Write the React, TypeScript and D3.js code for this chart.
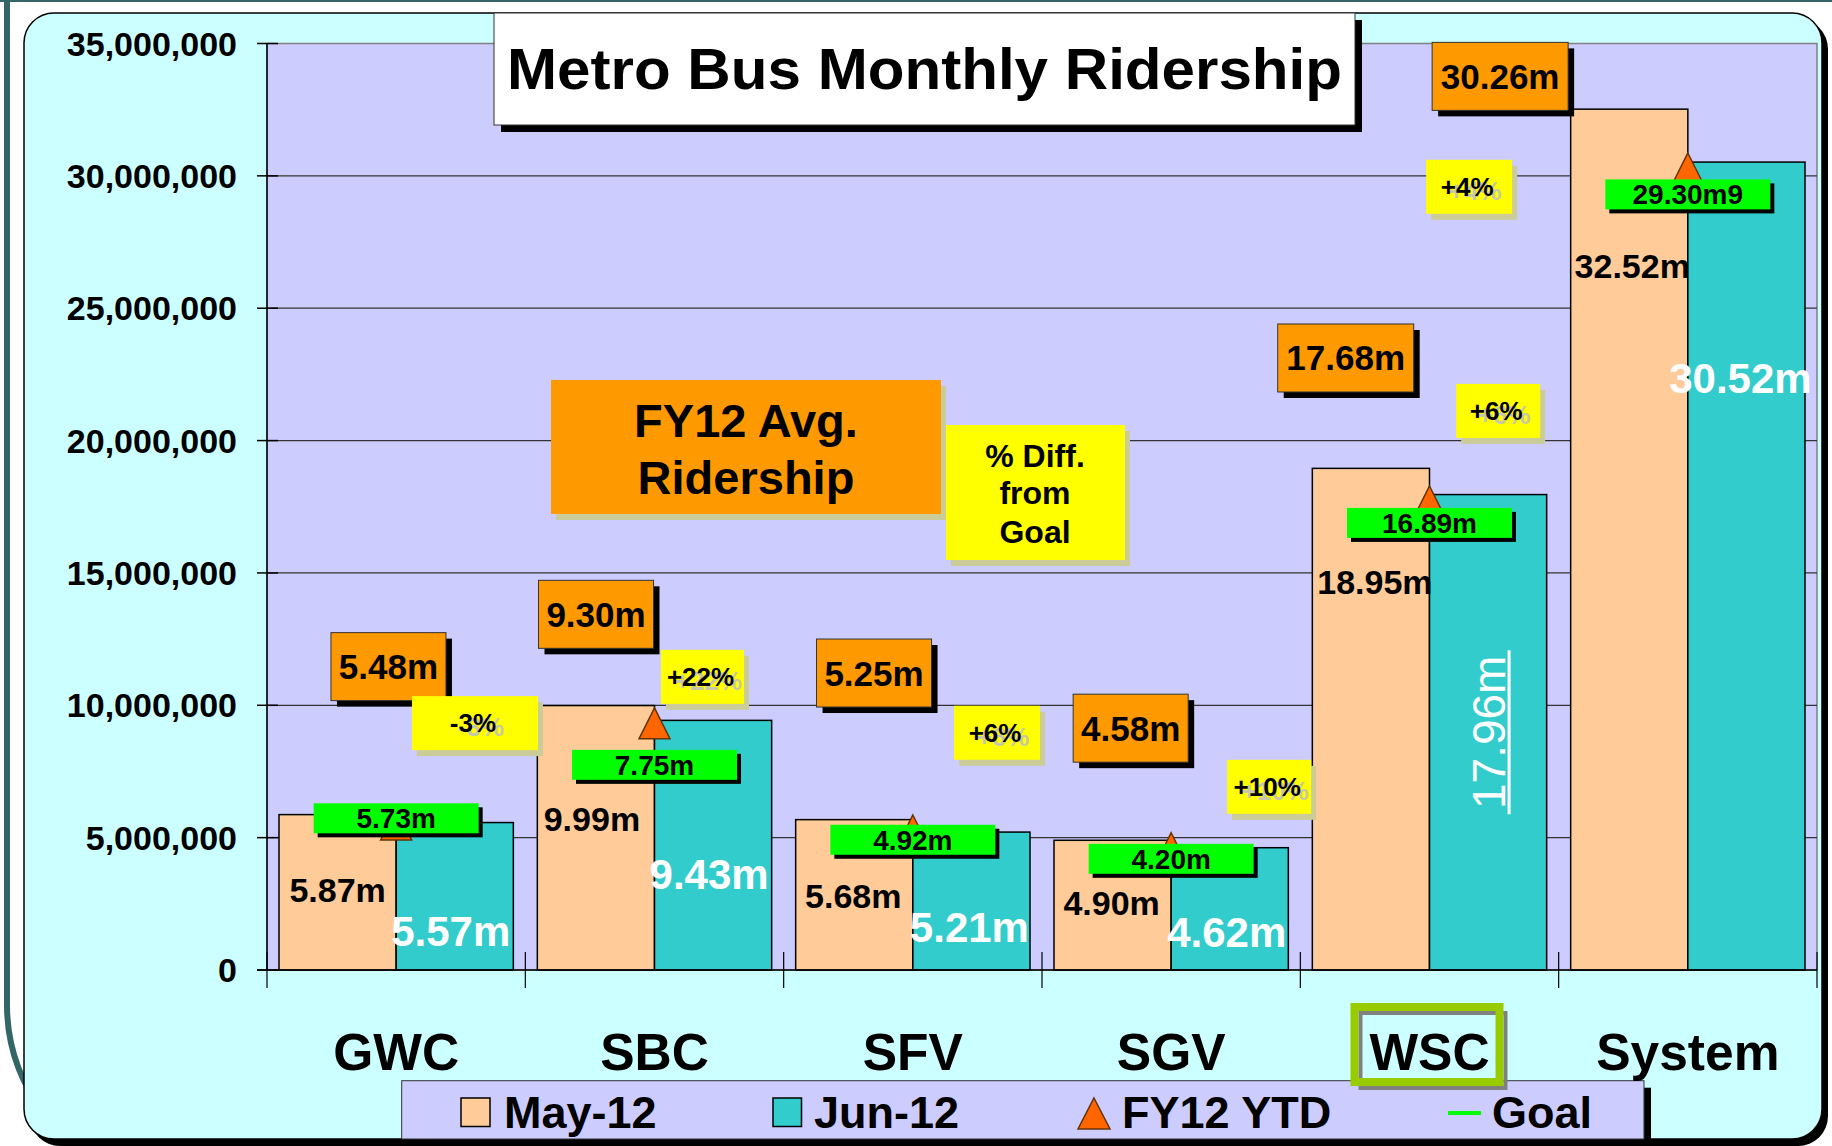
import React from "react";
import * as d3 from "d3";

// ---------- data ----------
const categories = ["GWC", "SBC", "SFV", "SGV", "WSC", "System"];
const series = ["May-12", "Jun-12"];
const may12 = [5870000, 9990000, 5680000, 4900000, 18950000, 32520000];
const jun12 = [5570000, 9430000, 5210000, 4620000, 17960000, 30520000];
const fy12Ytd = [5480000, 9300000, 5250000, 4580000, 17680000, 30260000];
const goal = [5730000, 7750000, 4920000, 4200000, 16890000, 29300000];
const goalLabels = ["5.73m", "7.75m", "4.92m", "4.20m", "16.89m", "29.30m9"];
const yTicks = [0, 5000000, 10000000, 15000000, 20000000, 25000000, 30000000, 35000000];
const highlighted = "WSC";
const rotatedJunLabel = "WSC";

// ---------- layout of hand-placed annotations (px offsets / value anchors) ----------
const mayLabelAnchor = [3.02e6, 5.7e6, 2.79e6, 2.53e6, 14.64e6, 26.6e6];
const mayLabelDx = [0, -4, -1, -1, 4, 3];
const junLabelAnchor = [1.47e6, 3.62e6, 1.64e6, 1.43e6, 8.98e6, 22.38e6];
const junLabelDx = [-4, -4, -2, -3, 0, -6];
const avgBoxOffset: [number, number][] = [
  [-7.7, -158.3], [-58.5, -109.5], [-38.8, -158], [-40.5, -120.6], [-83.8, -144], [-187.7, -92.6],
];
const pctBoxOffset: [number, number][] = [
  [78.8, -95.2], [48, -88], [84.2, -107], [98, -72], [68.7, -112], [-218.7, -7.6],
];
const pctBoxWidth = [126, 83, 86, 84, 84, 86];

const W = 1832;
const H = 1146;
const FONT = "'Liberation Sans', Arial, Helvetica, sans-serif";

const C = {
  may: "#ffcc99",
  jun: "#33cccc",
  plot: "#ccccff",
  frame: "#ccffff",
  orange: "#ff9900",
  yellow: "#ffff00",
  green: "#00ff00",
  tri: "#ff6600",
  triStroke: "#663300",
  tan: "#cccc99",
  teal: "#336666",
};

export default function App() {
  const plotL = 267, plotR = 1817, plotT = 43.5, plotB = 970;
  const x0 = d3.scaleBand<string>().domain(categories).range([plotL, plotR]).paddingInner(0).paddingOuter(0);
  const bw = x0.bandwidth();
  const x1 = d3.scaleBand<string>().domain(series).range([12, bw - 12]);
  const y = d3.scaleLinear().domain([0, 35000000]).range([plotB, plotT]);
  const fmt = d3.format(",");
  const mfmt = (v: number) => (v / 1e6).toFixed(2) + "m";
  const pct = (a: number, b: number) => {
    const p = Math.round((a / b - 1) * 100);
    return (p >= 0 ? "+" : "-") + Math.abs(p) + "%";
  };
  const cx = (c: string) => (x0(c) as number) + bw / 2;
  const bx = (c: string, s: string) => (x0(c) as number) + (x1(s) as number);
  const sw = x1.bandwidth();

  const boundaries = d3.range(categories.length + 1).map((i) => plotL + i * bw);

  return (
    <div style={{ position: "absolute", left: 0, top: 0 }}>
      <svg width={W} height={H} style={{ display: "block", fontFamily: FONT }}>
        {/* slide frame */}
        <rect x={0} y={0} width={W} height={H} fill="#ffffff" />
        <line x1={0} x2={W} y1={1} y2={1} stroke={C.teal} strokeWidth={2} />
        <path d="M7,0 V1005 Q7,1065 45,1115" stroke={C.teal} strokeWidth={6} fill="none" />
        <rect x={30} y={19} width={1798} height={1127} rx={30} fill="#000" />
        <rect x={24} y={13} width={1798} height={1126} rx={30} fill={C.frame} stroke="#000" strokeWidth={1.5} />

        {/* plot area */}
        <rect x={plotL} y={plotT} width={plotR - plotL} height={plotB - plotT} fill={C.plot} stroke="#808080" strokeWidth={1.5} />
        {yTicks.filter((t) => t > 0 && t < 35000000).map((t) => (
          <line key={"g" + t} x1={plotL} x2={plotR} y1={y(t)} y2={y(t)} stroke="#333" strokeWidth={1.2} />
        ))}

        {/* y axis */}
        <line x1={plotL} x2={plotL} y1={plotT} y2={plotB} stroke="#000" strokeWidth={1.5} />
        {yTicks.map((t) => (
          <g key={"t" + t}>
            <line x1={plotL - 10} x2={plotL + 11} y1={y(t)} y2={y(t)} stroke="#000" strokeWidth={1.5} />
            <text x={237} y={y(t) + 12} textAnchor="end" fontSize={34} fontWeight="bold" fill="#000">
              {fmt(t)}
            </text>
          </g>
        ))}

        {/* bars */}
        {categories.map((c, i) => (
          <g key={"b" + c}>
            <rect x={bx(c, series[0])} y={y(may12[i])} width={sw} height={plotB - y(may12[i])} fill={C.may} stroke="#000" strokeWidth={1.5} />
            <rect x={bx(c, series[1])} y={y(jun12[i])} width={sw} height={plotB - y(jun12[i])} fill={C.jun} stroke="#000" strokeWidth={1.5} />
          </g>
        ))}

        {/* x axis */}
        <line x1={plotL - 10} x2={plotR} y1={plotB} y2={plotB} stroke="#000" strokeWidth={1.5} />
        {boundaries.map((bxv, i) => (
          <line key={"xt" + i} x1={bxv} x2={bxv} y1={plotB - 18} y2={plotB + 18} stroke="#000" strokeWidth={1.2} />
        ))}

        {/* FY12 YTD triangles */}
        {categories.map((c, i) => {
          const px = cx(c), py = y(fy12Ytd[i]);
          return (
            <path key={"tri" + c} d={`M${px},${py - 16} L${px + 15.5},${py + 15} L${px - 15.5},${py + 15} Z`} fill={C.tri} stroke={C.triStroke} strokeWidth={1.5} />
          );
        })}

        {/* goal boxes */}
        {categories.map((c, i) => {
          const px = cx(c), py = y(goal[i]);
          return (
            <g key={"goal" + c}>
              <rect x={px - 82.5 + 4} y={py - 15 + 4} width={165} height={30} fill="#000" />
              <rect x={px - 82.5} y={py - 15} width={165} height={30} fill={C.green} />
              <text x={px} y={py + 10} textAnchor="middle" fontSize={28} fontWeight="bold">{goalLabels[i]}</text>
            </g>
          );
        })}

        {/* bar value labels */}
        {categories.map((c, i) => {
          const mx = bx(c, series[0]) + sw / 2 + mayLabelDx[i];
          const jx = bx(c, series[1]) + sw / 2 + junLabelDx[i];
          const my = y(mayLabelAnchor[i]);
          const jy = y(junLabelAnchor[i]);
          return (
            <g key={"lab" + c}>
              <text x={mx} y={my + 12} textAnchor="middle" fontSize={34} fontWeight="bold" fill="#000">{mfmt(may12[i])}</text>
              {c === rotatedJunLabel ? (
                <g transform={`translate(${jx + 16.5},${jy}) rotate(-90)`}>
                  <text x={0} y={0} textAnchor="middle" fontSize={46} fill="#fff">{mfmt(jun12[i])}</text>
                  <line x1={-82} x2={82} y1={4.5} y2={4.5} stroke="#fff" strokeWidth={3} />
                </g>
              ) : (
                <text x={jx} y={jy + 15} textAnchor="middle" fontSize={42} fontWeight="bold" fill="#fff">{mfmt(jun12[i])}</text>
              )}
            </g>
          );
        })}

        {/* FY12 avg boxes */}
        {categories.map((c, i) => {
          const label = mfmt(fy12Ytd[i]);
          const w = label.length > 5 ? 136 : 115;
          const h = 68;
          const ccx = cx(c) + avgBoxOffset[i][0];
          const ccy = y(fy12Ytd[i]) + avgBoxOffset[i][1];
          return (
            <g key={"avg" + c}>
              <rect x={ccx - w / 2 + 6} y={ccy - h / 2 + 6} width={w} height={h} fill="#000" />
              <rect x={ccx - w / 2} y={ccy - h / 2} width={w} height={h} fill={C.orange} stroke="#333" strokeWidth={1} />
              <text x={ccx} y={ccy + 12.5} textAnchor="middle" fontSize={35} fontWeight="bold">{label}</text>
            </g>
          );
        })}

        {/* % diff boxes */}
        {categories.map((c, i) => {
          const label = pct(jun12[i], goal[i]);
          const w = pctBoxWidth[i];
          const h = 54;
          const ccx = cx(c) + pctBoxOffset[i][0];
          const ccy = y(goal[i]) + pctBoxOffset[i][1];
          return (
            <g key={"pct" + c}>
              <rect x={ccx - w / 2 + 5} y={ccy - h / 2 + 6} width={w} height={h} fill={C.tan} />
              <rect x={ccx - w / 2} y={ccy - h / 2} width={w} height={h} fill={C.yellow} />
              <text x={ccx + 6} y={ccy + 13} textAnchor="middle" fontSize={26} fontWeight="bold" fill="#c8c8a8">{label}</text>
              <text x={ccx - 2} y={ccy + 9} textAnchor="middle" fontSize={26} fontWeight="bold" fill="#000">{label}</text>
            </g>
          );
        })}

        {/* key boxes */}
        <rect x={556} y={386} width={390} height={134} fill={C.tan} />
        <rect x={551} y={380} width={390} height={134} fill={C.orange} />
        <text x={746} y={436.5} textAnchor="middle" fontSize={47} fontWeight="bold">FY12 Avg.</text>
        <text x={746} y={494} textAnchor="middle" fontSize={47} fontWeight="bold">Ridership</text>

        <rect x={951} y={431} width={179} height={135} fill={C.tan} />
        <rect x={946} y={425} width={179} height={135} fill={C.yellow} />
        <text x={1035} y={466.7} textAnchor="middle" fontSize={32} fontWeight="bold">% Diff.</text>
        <text x={1035} y={504.3} textAnchor="middle" fontSize={32} fontWeight="bold">from</text>
        <text x={1035} y={543.3} textAnchor="middle" fontSize={32} fontWeight="bold">Goal</text>

        {/* title */}
        <rect x={501} y={20} width={861} height={112} fill="#000" />
        <rect x={494} y={13} width={861} height={112} fill="#fff" stroke="#333" strokeWidth={1} />
        <text x={924.5} y={89} textAnchor="middle" fontSize={58} fontWeight="bold" textLength={835} lengthAdjust="spacingAndGlyphs">
          Metro Bus Monthly Ridership
        </text>

        {/* legend */}
        <rect x={408.7} y={1087.7} width={1242.3} height={58.3} fill="#000" />
        <rect x={401.7} y={1080.7} width={1242.3} height={58.3} fill={C.plot} stroke="#333" strokeWidth={1} />
        <rect x={461} y={1098} width={29} height={28.5} fill={C.may} stroke="#000" strokeWidth={1.5} />
        <text x={504} y={1128} fontSize={45} fontWeight="bold">{series[0]}</text>
        <rect x={773} y={1098} width={28.5} height={28.5} fill={C.jun} stroke="#000" strokeWidth={1.5} />
        <text x={814} y={1128} fontSize={45} fontWeight="bold">{series[1]}</text>
        <path d="M1094,1098 L1110,1129 L1078,1129 Z" fill={C.tri} stroke={C.triStroke} strokeWidth={1.5} />
        <text x={1122} y={1128} fontSize={45} fontWeight="bold">FY12 YTD</text>
        <line x1={1448} x2={1481} y1={1113} y2={1113} stroke={C.green} strokeWidth={4} />
        <text x={1492} y={1128} fontSize={45} fontWeight="bold">Goal</text>

        {/* category labels */}
        {categories.map((c) => (
          <g key={"cat" + c}>
            {c === highlighted && (
              <g>
                <rect x={cx(c) - 75 + 6} y={1007 + 6} width={145} height={75} fill="none" stroke="#808080" strokeWidth={4} />
                <rect x={cx(c) - 75} y={1007} width={145} height={75} fill="none" stroke="#99cc00" strokeWidth={8} />
              </g>
            )}
            <text x={cx(c)} y={1070} textAnchor="middle" fontSize={51.5} fontWeight="bold">{c}</text>
          </g>
        ))}
      </svg>
    </div>
  );
}
